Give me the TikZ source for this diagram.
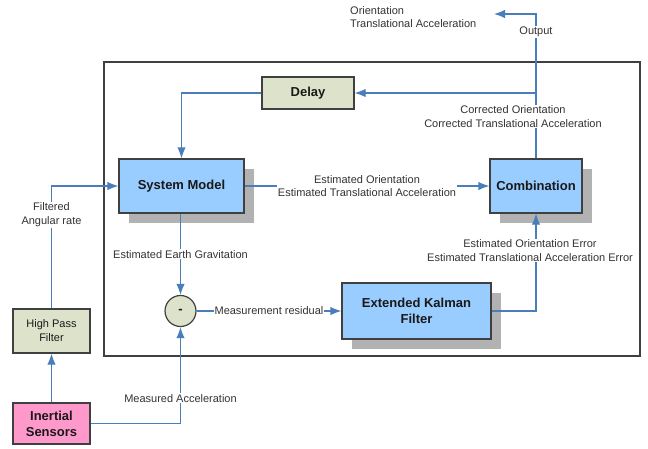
\documentclass[tikz,border=0pt]{standalone}
\usepackage{fontspec}
\setmainfont{Liberation Sans}
\usetikzlibrary{shadows,arrows.meta}
\definecolor{lineblue}{HTML}{4A7EBB}
\definecolor{boxblue}{HTML}{99CCFF}
\definecolor{boxgreen}{HTML}{DDE3CB}
\definecolor{boxpink}{HTML}{FF99CC}
\definecolor{edgegray}{HTML}{404040}
\definecolor{labelgray}{HTML}{333333}
\begin{document}
\begin{tikzpicture}[x=1pt,y=-1pt,
    blk/.style={draw=edgegray,line width=1.2pt,inner sep=0pt,align=center,text=black!90,
      font=\fontsize{13}{16}\selectfont\bfseries},
    blueblk/.style={blk,fill=boxblue,
      drop shadow={shadow xshift=10pt,shadow yshift=-10pt,fill=black!30,opacity=1}},
    arr/.style={draw=lineblue,line width=1.2pt,->,>={Latex[length=11pt,width=8.5pt]}},
    lbl/.style={fill=white,inner sep=1pt,align=center,text=labelgray,
      font=\fontsize{11}{13.5}\selectfont}]
    \useasboundingbox (0,0) rectangle (648,448);
    % frame round the estimator
    \draw[edgegray,line width=1.3pt] (104,62) rectangle (640,356);
    % blocks
    \node[blk,fill=boxgreen,minimum width=92pt,minimum height=32pt](D) at (308,93) {Delay};
    \node[blueblk,minimum width=125pt,minimum height=54pt](SM) at (181.5,186) {System Model};
    \node[blueblk,minimum width=92pt,minimum height=54pt](C) at (536,186) {Combination};
    \node[blueblk,minimum width=149pt,minimum height=56pt](EKF) at (416.5,311) {Extended Kalman\\Filter};
    \node[blk,circle,fill=boxgreen,minimum size=31pt](M) at (180.5,311) {-};
    \node[blk,fill=boxgreen,font=\fontsize{11}{14}\selectfont,minimum width=77pt,minimum height=44pt](HPF) at (51.5,331) {High Pass\\Filter};
    \node[blk,fill=boxpink,minimum width=77pt,minimum height=41pt](IS) at (51.5,423.5) {Inertial\\Sensors};
    \node[lbl,fill=none,anchor=west,align=left](OUT) at (349,17) {Orientation\\Translational Acceleration};
    \coordinate (O) at (494,14);
    \coordinate (J) at (C.north |- D.east);
    % connectors
    \draw[arr] (C.north) |- node[lbl,pos=0.145,xshift=-23pt](CL) {Corrected Orientation\\Corrected Translational Acceleration}
      node[lbl,pos=0.438](OL) {Output} (O);
    \draw[arr] (J) -- (D.east);
    \draw[arr] (D.west) -| (SM.north);
    \draw[arr] (HPF.north) |- node[lbl,pos=0.382](FL) {Filtered\\Angular rate} (SM.west);
    \draw[arr] (SM.east) -- node[lbl](EL) {Estimated Orientation\\Estimated Translational Acceleration} (C.west);
    \draw[arr] (SM.south -| M.north) -- node[lbl](GL) {Estimated Earth Gravitation} (M.north);
    \draw[arr] (M.east) -- node[lbl](RL) {Measurement residual} (EKF.west);
    \draw[arr] (EKF.east) -| node[lbl,pos=0.81,xshift=-6pt](ERL) {Estimated Orientation Error\\Estimated Translational Acceleration Error} (C.south);
    \draw[arr] (IS.north) -- (HPF.south);
    \draw[arr] (IS.east) -| node[lbl,pos=0.63](ML) {Measured Acceleration} (M.south);
\end{tikzpicture}
\end{document}
